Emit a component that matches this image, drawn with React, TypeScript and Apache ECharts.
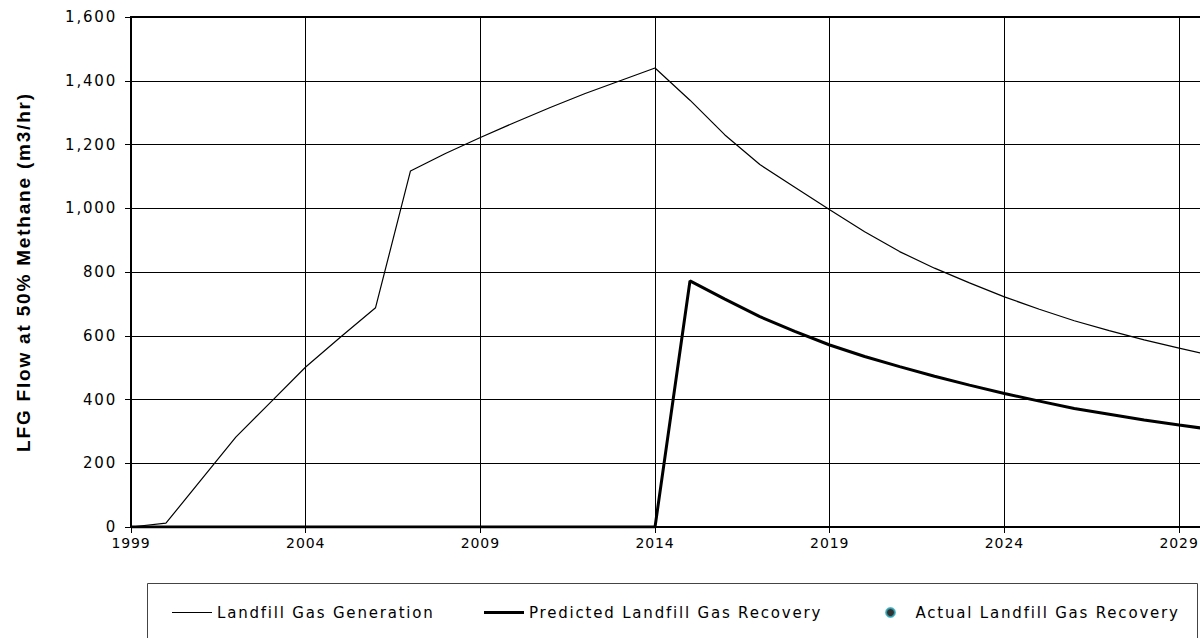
import React, { useEffect, useRef } from "react";
import * as echarts from "echarts";

const years = [
  "1999", "2000", "2001", "2002", "2003", "2004", "2005", "2006",
  "2007", "2008", "2009", "2010", "2011", "2012", "2013", "2014",
  "2015", "2016", "2017", "2018", "2019", "2020", "2021", "2022",
  "2023", "2024", "2025", "2026", "2027", "2028", "2029", "2030",
];

const generation = [
  0, 12, 147, 282, 392, 502, 596, 688,
  1117, 1172, 1222, 1270, 1316, 1360, 1400, 1440,
  1339, 1230, 1137, 1066, 995, 926, 864, 812,
  766, 722, 683, 647, 616, 587, 561, 537,
];

const predictedRecovery = [
  0, 0, 0, 0, 0, 0, 0, 0,
  0, 0, 0, 0, 0, 0, 0, 0,
  772, 715, 660, 614, 571, 535, 503, 473,
  445, 419, 395, 372, 354, 336, 320, 305,
];

const actualRecovery: number[] = [];

const seriesNames = [
  "Landfill Gas Generation",
  "Predicted Landfill Gas Recovery",
  "Actual Landfill Gas Recovery",
];

const yAxisTitle = "LFG Flow at 50% Methane (m3/hr)";

export default function App() {
  const ref = useRef<HTMLDivElement>(null);

  useEffect(() => {
    if (!ref.current) return;
    const chart = echarts.init(ref.current, null, { renderer: "svg" });
    const font = "'DejaVu Sans', sans-serif";
    const xFont = "'DejaVu Sans', Verdana";
    const legendText = { fontFamily: font, fontSize: 15, color: "#000" };
    chart.setOption({
      animation: false,
      backgroundColor: "#ffffff",
      grid: {
        left: 131,
        right: 26,
        top: 17,
        bottom: 111,
        show: true,
        borderColor: "#000",
        borderWidth: 2,
        backgroundColor: "transparent",
      },
      xAxis: {
        type: "category",
        data: years,
        boundaryGap: false,
        axisLine: { show: true, lineStyle: { color: "#000", width: 2 } },
        axisTick: { show: true, interval: 4, length: 6, lineStyle: { color: "#000", width: 1 } },
        axisLabel: { interval: 4, color: "#000", fontFamily: xFont, fontSize: 14, margin: 9 },
        splitLine: { show: true, interval: 4, lineStyle: { color: "#000", width: 1 } },
      },
      yAxis: {
        type: "value",
        min: 0,
        max: 1600,
        interval: 200,
        name: yAxisTitle,
        nameLocation: "middle",
        nameGap: 98,
        nameTextStyle: {
          fontFamily: "'Liberation Sans', Arial, sans-serif",
          fontWeight: "bold",
          fontSize: 19,
          color: "#000",
        },
        axisLine: { show: true, lineStyle: { color: "#000", width: 2 } },
        axisTick: { show: true, length: 6, lineStyle: { color: "#000", width: 1 } },
        axisLabel: {
          color: "#000",
          fontFamily: font,
          fontSize: 15,
          margin: 14,
          formatter: (v: number) => v.toLocaleString("en-US"),
        },
        splitLine: { show: true, lineStyle: { color: "#000", width: 1 } },
      },
      legend: [
        {
          data: [seriesNames[0]],
          left: 172,
          top: 605,
          padding: 0,
          icon: "rect",
          itemWidth: 40,
          itemHeight: 1.2,
          selectedMode: false,
          textStyle: legendText,
        },
        {
          data: [seriesNames[1]],
          left: 484,
          top: 605,
          padding: 0,
          icon: "rect",
          itemWidth: 40,
          itemHeight: 3,
          selectedMode: false,
          textStyle: legendText,
        },
        {
          data: [seriesNames[2]],
          left: 885,
          top: 605,
          padding: 0,
          icon: "circle",
          itemWidth: 40,
          itemHeight: 9,
          selectedMode: false,
          textStyle: legendText,
        },
      ],
      graphic: [
        {
          type: "rect",
          shape: { x: 147.5, y: 583.5, width: 1050, height: 80 },
          style: { fill: "none", stroke: "#444", lineWidth: 1 },
          silent: true,
        },
      ],
      series: [
        {
          name: seriesNames[0],
          type: "line",
          data: generation,
          symbol: "none",
          lineStyle: { color: "#000", width: 1.2 },
          itemStyle: { color: "#000" },
        },
        {
          name: seriesNames[1],
          type: "line",
          data: predictedRecovery,
          symbol: "none",
          lineStyle: { color: "#000", width: 3 },
          itemStyle: { color: "#000" },
        },
        {
          name: seriesNames[2],
          type: "scatter",
          data: actualRecovery,
          symbolSize: 9,
          itemStyle: { color: "#000", borderColor: "#2eaec0", borderWidth: 1.5 },
        },
      ],
    });
    return () => chart.dispose();
  }, []);

  return (
    <>
      <style>{`
        .lfg-chart text { letter-spacing: 1.8px; }
        .lfg-chart text[style*="Verdana"], .lfg-chart text[font-family*="Verdana"] { letter-spacing: 0.9px; }
      `}</style>
      <div
        style={{
          position: "fixed",
          left: 0,
          top: 0,
          width: 1200,
          height: 638,
          overflow: "hidden",
        }}
      >
        <div ref={ref} className="lfg-chart" style={{ width: 1240, height: 638 }} />
      </div>
    </>
  );
}
